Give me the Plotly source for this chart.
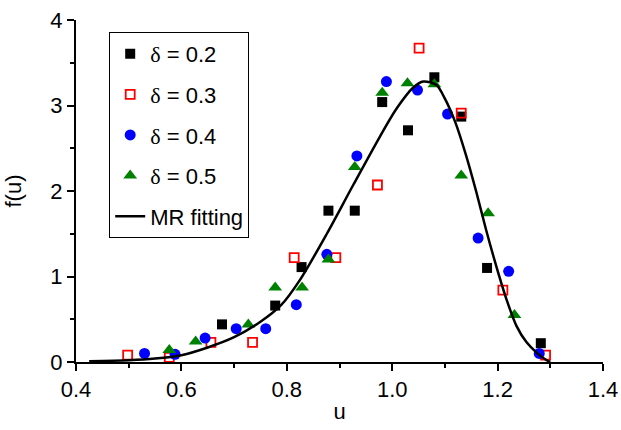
import plotly.graph_objects as go

# delta = 0.2
u02 = [0.677, 0.778, 0.828, 0.879, 0.929, 0.981, 1.030, 1.080, 1.131, 1.180, 1.282]
f02 = [0.44, 0.66, 1.11, 1.77, 1.77, 3.04, 2.71, 3.33, 2.87, 1.10, 0.22]
# delta = 0.3
u03 = [0.498, 0.577, 0.656, 0.735, 0.814, 0.893, 0.972, 1.051, 1.131, 1.210, 1.291]
f03 = [0.08, 0.055, 0.23, 0.23, 1.22, 1.22, 2.07, 3.67, 2.91, 0.84, 0.08]
# delta = 0.4
u04 = [0.530, 0.588, 0.645, 0.704, 0.760, 0.818, 0.876, 0.933, 0.989, 1.048, 1.105, 1.163, 1.221, 1.279]
f04 = [0.10, 0.09, 0.28, 0.39, 0.39, 0.67, 1.26, 2.41, 3.28, 3.18, 2.90, 1.45, 1.06, 0.10]
# delta = 0.5
u05 = [0.577, 0.627, 0.727, 0.778, 0.829, 0.879, 0.929, 0.981, 1.029, 1.080, 1.131, 1.182, 1.232]
f05 = [0.14, 0.24, 0.44, 0.87, 0.87, 1.20, 2.28, 3.15, 3.26, 3.25, 2.18, 1.74, 0.55]
# MR fitting curve
u_fit = [0.425, 0.50, 0.55, 0.60, 0.65, 0.70, 0.75, 0.79, 0.825, 0.876, 0.926, 0.977,
         1.009, 1.040, 1.059, 1.084, 1.100, 1.120, 1.140, 1.160, 1.178, 1.198, 1.217,
         1.236, 1.255, 1.274, 1.293, 1.30]
f_fit = [0.01, 0.02, 0.04, 0.08, 0.17, 0.29, 0.47, 0.67, 0.96, 1.50, 2.07, 2.64,
         2.97, 3.21, 3.28, 3.24, 3.08, 2.80, 2.42, 1.98, 1.55, 1.11, 0.73,
         0.42, 0.23, 0.11, 0.02, 0.0]

x_ticks = [0.4, 0.6, 0.8, 1.0, 1.2, 1.4]
x_ticklabels = ["0.4", "0.6", "0.8", "1.0", "1.2", "1.4"]
y_ticks = [0, 1, 2, 3, 4]
y_ticklabels = ["0", "1", "2", "3", "4"]

FONT = "Liberation Sans, Arial, sans-serif"
delta = "<span style='font-family:Liberation Serif'>δ</span>"

fig = go.Figure()
fig.add_trace(go.Scatter(x=u02, y=f02, mode="markers", name=f"{delta} = 0.2", legendgroup="a",
                         marker=dict(symbol="square", size=10, color="black")))
fig.add_trace(go.Scatter(x=u03, y=f03, mode="markers", name=f"{delta} = 0.3", legendgroup="b",
                         marker=dict(symbol="square-open", size=9, color="red", line=dict(width=1.8, color="red"))))
fig.add_trace(go.Scatter(x=u04, y=f04, mode="markers", name=f"{delta} = 0.4", legendgroup="c",
                         marker=dict(symbol="circle", size=11, color="blue")))
fig.add_trace(go.Scatter(x=u05, y=f05, mode="markers", name=f"{delta} = 0.5", legendgroup="d",
                         marker=dict(symbol="triangle-up", size=12, color="green")))
fig.add_trace(go.Scatter(x=u_fit, y=f_fit, mode="lines", name="MR fitting", legendgroup="e",
                         line=dict(color="black", width=2.5, shape="spline", smoothing=0.8)))

fig.update_layout(
    width=621, height=430,
    margin=dict(l=76, r=18, t=20, b=68),
    paper_bgcolor="white", plot_bgcolor="white",
    font=dict(family=FONT, size=22, color="black"),
    showlegend=True,
    legend=dict(x=0.063, y=0.965, xanchor="left", yanchor="top",
                bordercolor="black", borderwidth=1, bgcolor="white",
                font=dict(size=22), traceorder="grouped", tracegroupgap=9),
    xaxis=dict(range=[0.4, 1.4], tickvals=x_ticks, ticktext=x_ticklabels,
               showline=True, linecolor="black", linewidth=2, mirror=False,
               ticks="outside", ticklen=7, tickwidth=2, tickcolor="black",
               minor=dict(dtick=0.1, tick0=0.4, ticks="outside", ticklen=4, tickwidth=2, tickcolor="black"),
               showgrid=False, zeroline=False, automargin=False,
               title=dict(text="u", font=dict(size=22), standoff=2)),
    yaxis=dict(range=[0, 4], tickvals=y_ticks, ticktext=y_ticklabels,
               showline=True, linecolor="black", linewidth=2, mirror=False,
               ticks="outside", ticklen=7, tickwidth=2, tickcolor="black",
               minor=dict(dtick=0.5, tick0=0, ticks="outside", ticklen=4, tickwidth=2, tickcolor="black"),
               showgrid=False, zeroline=False, automargin=False,
               title=dict(text="f(u)", font=dict(size=22), standoff=23)),
)

fig.write_html("out.html", config={"displayModeBar": False},
               post_script="document.body.style.margin='0';")
